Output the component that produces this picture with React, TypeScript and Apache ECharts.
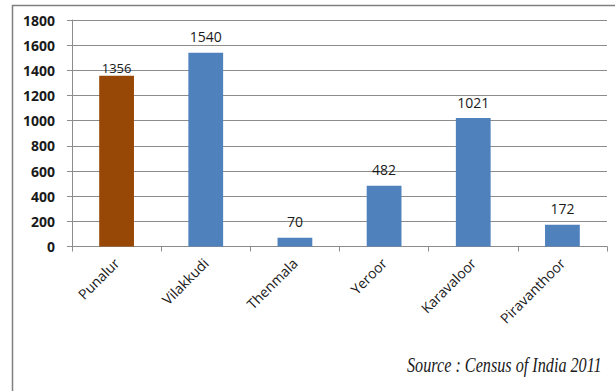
import React, { useEffect, useRef } from "react";
import * as echarts from "echarts";

const categories = ["Punalur", "Vilakkudi", "Thenmala", "Yeroor", "Karavaloor", "Piravanthoor"];
const values = [1356, 1540, 70, 482, 1021, 172];
const barColors = ["#974806", "#4f81bd", "#4f81bd", "#4f81bd", "#4f81bd", "#4f81bd"];
const sourceNote = "Source : Census of India 2011";

const baseFont = "'Open Sans', Lato, sans-serif";

export default function App() {
  const ref = useRef<HTMLDivElement>(null);

  useEffect(() => {
    if (!ref.current) return;
    const chart = echarts.init(ref.current, null, { renderer: "svg" });
    chart.setOption({
      animation: false,
      backgroundColor: "#ffffff",
      grid: { left: 72, right: 8, top: 20, bottom: 144.5, containLabel: false },
      xAxis: {
        type: "category",
        data: categories,
        axisLine: { show: true, lineStyle: { color: "#8c8c8c", width: 1 } },
        axisTick: { show: true, length: 5, lineStyle: { color: "#8c8c8c" } },
        axisLabel: {
          rotate: 45,
          margin: 14,
          color: "#1a1a1a",
          fontFamily: baseFont,
          fontSize: 14,
          interval: 0,
        },
      },
      yAxis: {
        type: "value",
        min: 0,
        max: 1800,
        interval: 200,
        axisLine: { show: true, lineStyle: { color: "#8c8c8c", width: 1 } },
        axisTick: { show: true, length: 5, lineStyle: { color: "#8c8c8c" } },
        splitLine: { show: true, lineStyle: { color: "#8c8c8c", width: 1 } },
        axisLabel: {
          margin: 17,
          color: "#1a1a1a",
          fontFamily: baseFont,
          fontWeight: "bold",
          fontSize: 14,
          formatter: (v: number) => String(v),
        },
      },
      series: [
        {
          type: "bar",
          barWidth: "39%",
          data: values.map((v, i) => ({
            value: v,
            itemStyle: { color: barColors[i] },
            // the first value label sits tight against its bar
            label: i === 0 ? { distance: 1, fontSize: 13 } : undefined,
          })),
          label: {
            show: true,
            position: "top",
            distance: 9,
            color: "#1a1a1a",
            fontFamily: baseFont,
            fontSize: 14,
          },
        },
      ],
      graphic: [
        {
          type: "rect",
          shape: { x: 12.5, y: 5.5, width: 640, height: 420 },
          style: { fill: "none", stroke: "#7f7f7f", lineWidth: 1.5 },
          silent: true,
        },
        {
          type: "text",
          x: 407,
          y: 375,
          scaleX: 0.81,
          style: {
            text: sourceNote,
            font: "italic 20px 'Liberation Serif', 'DejaVu Serif', serif",
            fill: "#1a1a1a",
            textAlign: "left",
            textVerticalAlign: "bottom",
          },
        },
      ],
    });
    return () => chart.dispose();
  }, []);

  return <div ref={ref} style={{ width: 615, height: 391, position: "absolute", left: 0, top: 0 }} />;
}
